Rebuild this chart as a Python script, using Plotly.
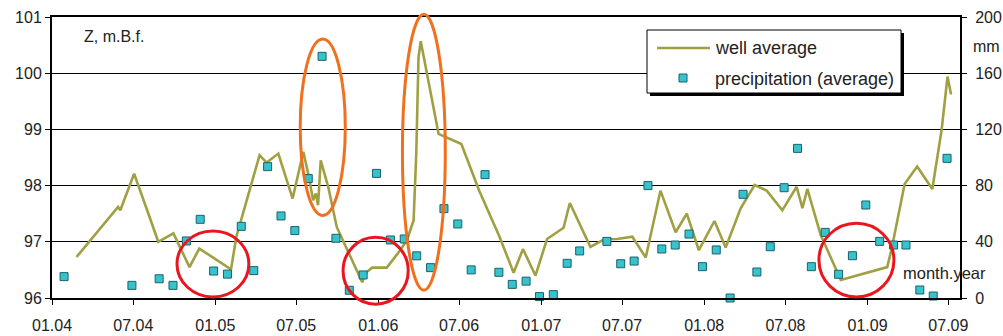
import pandas as pd
import plotly.graph_objects as go

# Well water level (average of observation wells), Z in m above datum
well_dates = [
    "2004-02-25", "2004-05-28", "2004-06-02", "2004-07-03", "2004-08-04", "2004-08-26",
    "2004-09-29", "2004-11-04", "2004-11-26",
    "2005-02-05", "2005-02-17", "2005-04-10", "2005-04-26", "2005-05-22", "2005-06-23",
    "2005-07-17", "2005-07-28", "2005-08-08", "2005-08-14", "2005-08-19", "2005-08-25",
    "2005-09-11", "2005-09-30", "2005-11-26", "2005-12-03", "2005-12-18",
    "2006-01-20", "2006-02-19", "2006-03-06", "2006-03-21", "2006-03-27", "2006-04-01",
    "2006-04-06", "2006-04-20", "2006-05-16", "2006-07-06", "2006-08-15", "2006-09-29",
    "2006-10-31", "2006-11-21", "2006-12-19",
    "2007-01-14", "2007-02-20", "2007-03-06", "2007-04-21", "2007-05-21", "2007-06-20",
    "2007-07-24", "2007-08-23", "2007-09-25", "2007-10-29", "2007-11-23", "2007-12-20",
    "2008-01-24", "2008-02-18", "2008-03-23", "2008-04-23", "2008-05-20", "2008-06-24",
    "2008-07-26", "2008-08-08", "2008-08-19", "2008-09-18", "2008-11-02",
    "2009-02-14", "2009-02-24", "2009-03-25", "2009-04-22", "2009-05-26", "2009-06-16",
    "2009-06-29", "2009-07-07",
]
well_z = [
    96.73, 97.62, 97.56, 98.21, 97.50, 97.00, 97.15, 96.55, 96.88,
    96.51, 97.09, 98.54, 98.41, 98.57, 97.77, 98.60, 98.21, 97.74, 97.86, 97.65, 98.45,
    97.97, 97.26, 96.28, 96.44, 96.54,
    96.54, 96.85, 97.03, 97.38, 98.57, 100.28, 100.57, 99.98, 98.92, 98.74, 97.91, 97.10,
    96.45, 96.87, 96.40,
    97.05, 97.25, 97.69, 96.91, 97.04, 97.05, 97.09, 96.72, 97.91, 97.17, 97.50, 96.85,
    97.37, 96.90, 97.60, 98.01, 97.91, 97.56, 97.98, 97.60, 97.94, 97.12, 96.32,
    96.55, 96.88, 98.03, 98.34, 97.94, 99.00, 99.94, 99.62,
]

# Monthly precipitation totals (average over gauges), mm
precip_month = [
    "2004-01", "2004-06", "2004-08", "2004-09", "2004-10", "2004-11", "2004-12",
    "2005-01", "2005-02", "2005-03", "2005-04", "2005-05", "2005-06", "2005-07", "2005-08",
    "2005-09", "2005-10", "2005-11", "2005-12",
    "2006-01", "2006-02", "2006-03", "2006-04", "2006-05", "2006-06", "2006-07", "2006-08",
    "2006-09", "2006-10", "2006-11", "2006-12",
    "2007-01", "2007-02", "2007-03", "2007-05", "2007-06", "2007-07", "2007-08", "2007-09",
    "2007-10", "2007-11", "2007-12",
    "2008-01", "2008-02", "2008-03", "2008-04", "2008-05", "2008-06", "2008-07", "2008-08",
    "2008-09", "2008-10", "2008-11", "2008-12",
    "2009-01", "2009-02", "2009-03", "2009-04", "2009-05", "2009-06", "2009-07",
]
precip_mm = [
    15.2, 9.0, 13.7, 9.0, 40.6, 56.0, 19.2,
    17.0, 51.0, 19.5, 93.5, 58.4, 48.0, 85.0, 172.0, 42.5, 5.5, 16.4,
    88.7, 41.3, 42.0, 30.0, 21.6, 63.6, 52.7, 20.0, 87.8, 18.3, 9.7, 12.0,
    1.0, 2.4, 24.7, 33.5, 40.3, 24.4, 26.3, 80.0, 34.9, 37.7, 45.5, 22.3,
    34.2, 0.0, 73.8, 18.5, 36.5, 78.5, 106.5, 22.3, 46.7, 16.9, 30.1, 66.2,
    40.3, 37.7, 37.7, 5.7, 1.4, 99.4, 2.1,
]

# Highlighted periods: (start, end, z_low, z_high)
low_periods = [
    ("2004-10-07", "2005-03-17", 96.02, 97.19),
    ("2005-10-14", "2006-03-09", 95.89, 97.08),
    ("2008-09-14", "2009-03-01", 96.02, 97.33),
]
peak_periods = [
    ("2005-07-10", "2005-10-19", 97.47, 100.61),
    ("2006-02-24", "2006-05-31", 96.14, 101.05),
]

X_START, X_END = "2004-01-01", "2009-07-27"
Z_MIN, Z_MAX = 96, 101
P_MIN, P_MAX = 0, 200

W, H = 1003, 336
M_L, M_R, M_T, M_B = 52, 43, 17, 38
PLOT_W = W - M_L - M_R
PLOT_H = H - M_T - M_B

FONT = "Arial, Liberation Sans, sans-serif"
TXT = "#222222"
WELL_COLOR = "#a0a043"
WELL_WIDTH = 2.6
PRECIP_FILL = "#35c4cc"
PRECIP_EDGE = "#1d5f6e"

precip_dates = [f"{m}-28" for m in precip_month]

fig = go.Figure()
fig.add_trace(go.Scatter(
    x=well_dates, y=well_z, name="well average", mode="lines",
    line=dict(color=WELL_COLOR, width=WELL_WIDTH), yaxis="y",
))
fig.add_trace(go.Scatter(
    x=precip_dates, y=precip_mm, name="precipitation (average)", mode="markers",
    marker=dict(symbol="square", size=8, color=PRECIP_FILL,
                line=dict(color=PRECIP_EDGE, width=1)),
    yaxis="y2", cliponaxis=False,
))

t0 = pd.Timestamp(X_START)
t1 = pd.Timestamp(X_END)


def xfrac(d):
    return (pd.Timestamp(d) - t0) / (t1 - t0)


def yfrac(z):
    return (z - Z_MIN) / (Z_MAX - Z_MIN)


def px(x):
    """page pixel column -> paper x"""
    return (x - M_L) / PLOT_W


def py(y):
    """page pixel row -> paper y"""
    return (H - M_B - y) / PLOT_H


shapes = []
for periods, colour in ((peak_periods, "#f0701e"), (low_periods, "#e8161e")):
    for a, b, lo, hi in periods:
        shapes.append(dict(
            type="circle", xref="x domain", yref="y domain",
            x0=xfrac(a), x1=xfrac(b), y0=yfrac(lo), y1=yfrac(hi),
            line=dict(color=colour, width=3), layer="above",
        ))

# legend box with drop shadow, drawn by hand
LEG_L, LEG_R, LEG_T, LEG_B = 647, 901, 30, 93
ROW1, ROW2 = 48, 78
shapes += [
    dict(type="rect", xref="paper", yref="paper",
         x0=px(LEG_L + 3), x1=px(LEG_R + 3), y0=py(LEG_B + 3), y1=py(LEG_T + 3),
         fillcolor="black", line=dict(width=0), layer="above"),
    dict(type="rect", xref="paper", yref="paper",
         x0=px(LEG_L), x1=px(LEG_R), y0=py(LEG_B), y1=py(LEG_T),
         fillcolor="white", line=dict(color="black", width=1), layer="above"),
    dict(type="line", xref="paper", yref="paper",
         x0=px(LEG_L + 10), x1=px(LEG_L + 63), y0=py(ROW1), y1=py(ROW1),
         line=dict(color=WELL_COLOR, width=WELL_WIDTH), layer="above"),
    dict(type="rect", xref="paper", yref="paper",
         x0=px(LEG_L + 32), x1=px(LEG_L + 40), y0=py(ROW2 + 4), y1=py(ROW2 - 4),
         fillcolor=PRECIP_FILL, line=dict(color=PRECIP_EDGE, width=1), layer="above"),
]


def label(text, x, y, size=16, anchor="left"):
    return dict(text=text, xref="paper", yref="paper", x=x, y=y,
                xanchor=anchor, yanchor="middle", showarrow=False,
                font=dict(family=FONT, size=size, color=TXT))


annotations = [
    label("Z, m.B.f.", px(82), py(36)),
    label("mm", px(971), py(46)),
    label("month.year", px(901), py(273), size=16.5),
    label("well average", px(LEG_L + 66), py(ROW1), size=18),
    label("precipitation (average)", px(LEG_L + 66), py(ROW2 + 1), size=18),
]

axis_common = dict(
    ticks="outside", ticklen=5, tickcolor="black", tickwidth=1,
    showline=True, linecolor="black", linewidth=2, zeroline=False,
    automargin=False,
    tickfont=dict(family=FONT, size=16, color=TXT),
)

fig.update_layout(
    width=W, height=H,
    margin=dict(l=M_L, r=M_R, t=M_T, b=M_B),
    paper_bgcolor="white", plot_bgcolor="white",
    font=dict(family=FONT, size=16, color=TXT),
    showlegend=False,
    xaxis=dict(
        type="date", range=[X_START, X_END],
        tick0="2004-01-01", dtick="M6", tickformat="%m.%y",
        mirror=True, showgrid=False, ticklabelstandoff=7, **axis_common,
    ),
    yaxis=dict(
        range=[Z_MIN, Z_MAX], dtick=1, tick0=96,
        showgrid=True, gridcolor="black", gridwidth=1, **axis_common,
    ),
    yaxis2=dict(
        range=[P_MIN, P_MAX], dtick=40, tick0=0,
        overlaying="y", side="right", showgrid=False,
        ticklabelstandoff=5, **axis_common,
    ),
    shapes=shapes,
    annotations=annotations,
)

fig.write_html("out.html")
